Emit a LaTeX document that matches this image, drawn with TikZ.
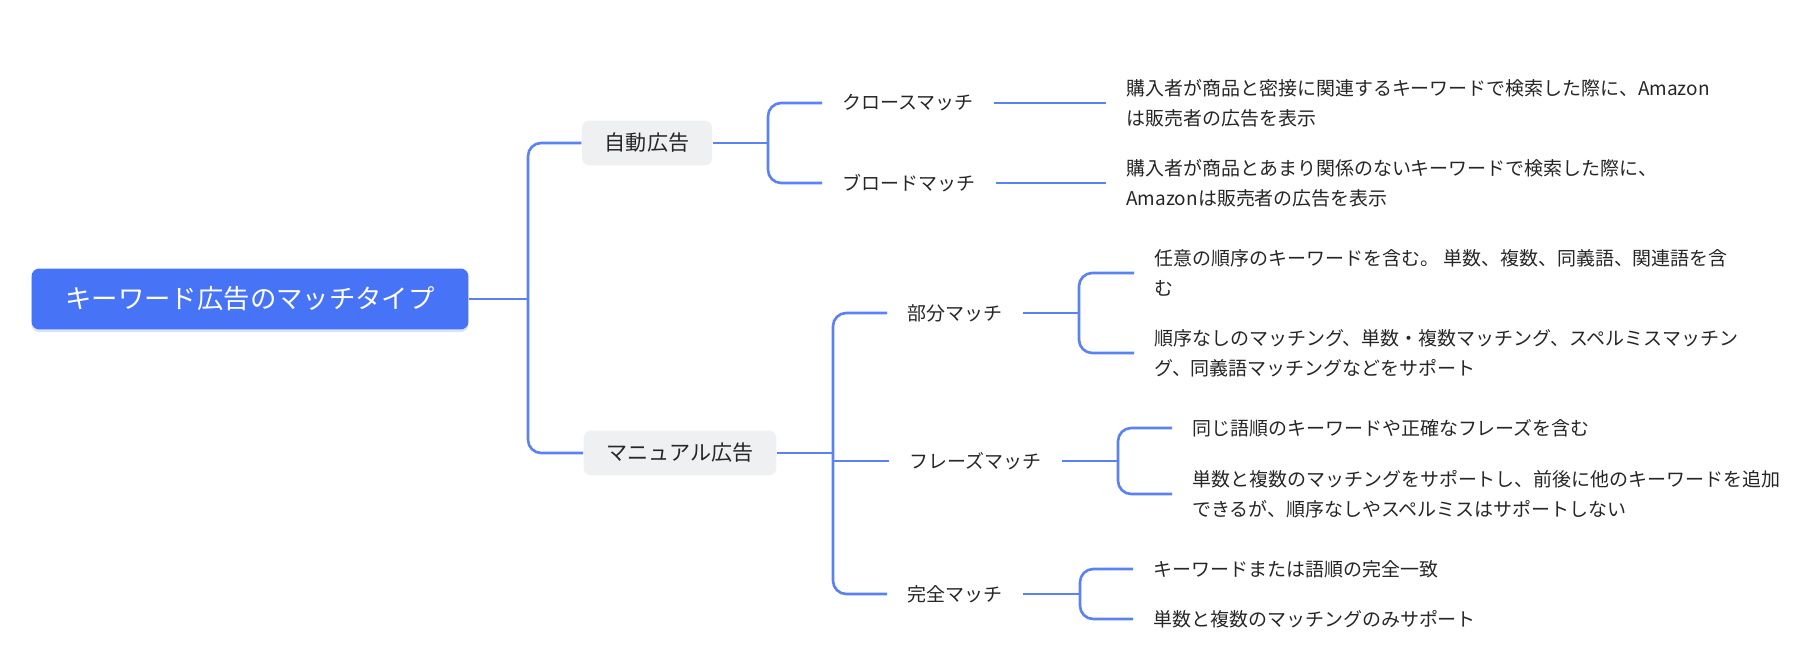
\documentclass[tikz,border=0pt]{standalone}
\usepackage{fontspec}
\setmainfont{Noto Sans CJK JP}
\usetikzlibrary{shadows}
\definecolor{mapblue}{HTML}{4773F6}
\definecolor{linkblue}{HTML}{5A82F4}
\definecolor{boxgray}{HTML}{EFF0F2}
\definecolor{inkgray}{HTML}{262626}
\tikzset{
  link/.style={draw=linkblue,line width=1.5pt,rounded corners=7.5pt},
  rootbox/.style={fill=mapblue,text=white,rounded corners=4.5pt,
    inner xsep=0.68cm,minimum height=1.22cm,font=\fontsize{15}{18}\selectfont,
    drop shadow={shadow xshift=0pt,shadow yshift=-1.5pt,fill=mapblue!40,opacity=.5}},
  topicbox/.style={fill=boxgray,text=inkgray,rounded corners=4.5pt,
    inner xsep=0.46cm,minimum height=0.9cm,font=\fontsize{12}{14}\selectfont},
  matchlabel/.style={text=inkgray,inner xsep=0.4cm,anchor=west,
    font=\fontsize{10.8}{17}\selectfont},
  desc/.style={matchlabel,align=left},
}
\begin{document}
\begin{tikzpicture}[x=0.02cm,y=-0.02cm]
  \useasboundingbox (0,0) rectangle (1814,658);

  \node[rootbox] (root) at (250,299) {キーワード広告のマッチタイプ};
  \node[topicbox] (auto) at (647,143) {自動広告};
  \node[topicbox] (manual) at (680,453) {マニュアル広告};

  \node[matchlabel] (close) at (822,103) {クロースマッチ};
  \node[matchlabel] (broad) at (822,183) {ブロードマッチ};
  \node[matchlabel] (part) at (887,313) {部分マッチ};
  \node[matchlabel] (phrase) at (889,461) {フレーズマッチ};
  \node[matchlabel] (exact) at (887,594) {完全マッチ};

  \node[desc] (closedesc) at (1106,103)
    {購入者が商品と密接に関連するキーワードで検索した際に、Amazon\\は販売者の広告を表示};
  \node[desc] (broaddesc) at (1106,183)
    {購入者が商品とあまり関係のないキーワードで検索した際に、\\Amazonは販売者の広告を表示};
  \node[desc] (partdesca) at (1134,273)
    {任意の順序のキーワードを含む。 単数、複数、同義語、関連語を含\\む};
  \node[desc] (partdescb) at (1134,353)
    {順序なしのマッチング、単数・複数マッチング、スペルミスマッチン\\グ、同義語マッチングなどをサポート};
  \node[desc] (phrasedesca) at (1172,428) {同じ語順のキーワードや正確なフレーズを含む};
  \node[desc] (phrasedescb) at (1172,494)
    {単数と複数のマッチングをサポートし、前後に他のキーワードを追加\\できるが、順序なしやスペルミスはサポートしない};
  \node[desc] (exactdesca) at (1133,569) {キーワードまたは語順の完全一致};
  \node[desc] (exactdescb) at (1133,619) {単数と複数のマッチングのみサポート};

  % forks
  \coordinate (rootfork) at (528,299);
  \coordinate (autofork) at (768,143);
  \coordinate (manualfork) at (833,453);
  \coordinate (partfork) at (1079,313);
  \coordinate (phrasefork) at (1118,461);
  \coordinate (exactfork) at (1080,594);

  \draw[link] (root.east) -- (rootfork);
  \draw[link] (auto.east) -- (autofork);
  \draw[link] (manual.east) -- (manualfork);
  \foreach \n in {part,phrase,exact}
    \draw[link] (\n.east) -- (\n fork);

  \foreach \a/\b in {rootfork/auto,rootfork/manual,autofork/close,autofork/broad,
      manualfork/part,manualfork/exact,partfork/partdesca,partfork/partdescb,
      phrasefork/phrasedesca,phrasefork/phrasedescb,
      exactfork/exactdesca,exactfork/exactdescb}
    \draw[link] (\a) |- (\b.west);
  \draw[link] (manualfork |- phrase.west) -- (phrase.west);

  \draw[link] (close.east) -- (closedesc.west);
  \draw[link] (broad.east) -- (broaddesc.west);
\end{tikzpicture}
\end{document}
